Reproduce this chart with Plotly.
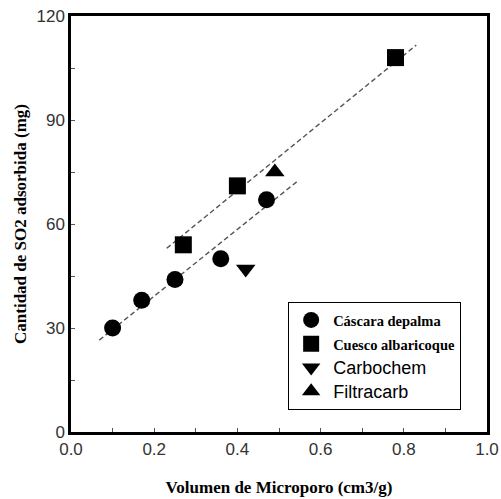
import plotly.graph_objects as go

# Micropore volume (cm3/g) vs adsorbed SO2 (mg) for each carbon
palma_x = [0.10, 0.17, 0.25, 0.36, 0.47]
palma_y = [30.0, 38.0, 44.0, 50.0, 67.0]
cuesco_x = [0.27, 0.40, 0.78]
cuesco_y = [54.0, 71.0, 108.0]
carbochem_x = [0.42]
carbochem_y = [47.0]
filtracarb_x = [0.49]
filtracarb_y = [75.0]

# Dashed trend lines (endpoints of each fitted segment)
fit_upper_x = [0.23, 0.83]
fit_upper_y = [53.0, 111.6]
fit_lower_x = [0.068, 0.545]
fit_lower_y = [26.5, 72.4]

serif = "Liberation Serif"
sans = "Liberation Sans"

fig = go.Figure()

dash_style = dict(color="#555555", width=1.4, dash="5px,3px")
fig.add_trace(go.Scatter(x=fit_upper_x, y=fit_upper_y, mode="lines",
                         line=dash_style, showlegend=False, hoverinfo="skip"))
fig.add_trace(go.Scatter(x=fit_lower_x, y=fit_lower_y, mode="lines",
                         line=dash_style, showlegend=False, hoverinfo="skip"))

def serif_name(txt):
    return f"<b><span style='font-family:{serif};font-size:14.5px'>{txt}</span></b>"

def sans_name(txt):
    return f"<span style='font-size:18px'>{txt}</span>"

fig.add_trace(go.Scatter(x=palma_x, y=palma_y, mode="markers",
                         name=serif_name("Cáscara depalma"),
                         marker=dict(symbol="circle", size=17, color="black")))
fig.add_trace(go.Scatter(x=cuesco_x, y=cuesco_y, mode="markers",
                         name=serif_name("Cuesco albaricoque"),
                         marker=dict(symbol="square", size=17, color="black")))
fig.add_trace(go.Scatter(x=carbochem_x, y=carbochem_y, mode="markers",
                         name=sans_name("Carbochem"),
                         marker=dict(symbol="triangle-down", size=17, color="black")))
fig.add_trace(go.Scatter(x=filtracarb_x, y=filtracarb_y, mode="markers",
                         name=sans_name("Filtracarb"),
                         marker=dict(symbol="triangle-up", size=17, color="black")))

axis_common = dict(
    showline=True, linecolor="black", linewidth=2.5, mirror=True,
    showgrid=False, zeroline=False, automargin=False,
    ticks="inside", ticklen=4, tickwidth=1, tickcolor="#555555",
    tickfont=dict(family=sans, size=17, color="#333333"),
    minor=dict(ticks="inside", ticklen=4, tickwidth=1, tickcolor="#555555"),
)

fig.update_xaxes(range=[0, 1.0], dtick=0.2, tickformat=".1f",
                 minor_dtick=0.1,
                 title=dict(text="<b>Volumen de Microporo (cm3/g)</b>",
                            font=dict(family=serif, size=17, color="black"),
                            standoff=23),
                 **axis_common)
fig.update_yaxes(range=[0, 120], dtick=30, minor_dtick=15,
                 title=dict(text="<b>Cantidad de SO2 adsorbida (mg)</b>",
                            font=dict(family=serif, size=17, color="black"),
                            standoff=6),
                 **axis_common)

fig.update_layout(
    width=501, height=499,
    margin=dict(l=71, r=14, t=16, b=67),
    paper_bgcolor="white", plot_bgcolor="white",
    legend=dict(x=0.522, y=0.3125, xanchor="left", yanchor="top",
                bordercolor="black", borderwidth=1, bgcolor="white",
                font=dict(family=sans, size=16, color="black"),
                tracegroupgap=0, itemsizing="trace", itemwidth=34),
)

fig.write_html("out.html")
